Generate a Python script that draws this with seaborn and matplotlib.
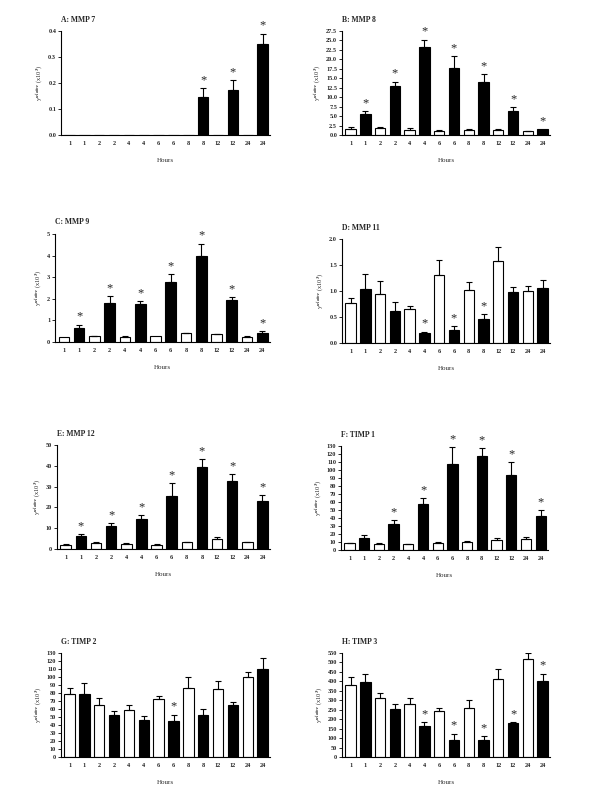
import matplotlib
matplotlib.use("Agg")
import numpy as np
import pandas as pd
import matplotlib.pyplot as plt
import seaborn as sns

# -----------------------------
# Data
# -----------------------------
hours = ["1", "1", "2", "2", "4", "4", "6", "6", "8", "8", "12", "12", "24", "24"]
groups = ["control", "treated"] * 7

mmp7_mean = [0, 0, 0, 0, 0, 0, 0, 0, 0, 0.145, 0, 0.174, 0, 0.35]
mmp7_err = [0, 0, 0, 0, 0, 0, 0, 0, 0, 0.035, 0, 0.037, 0, 0.04]
mmp7_sig = [9, 11, 13]

mmp8_mean = [1.5, 5.5, 1.85, 12.9, 1.3, 23.3, 1.15, 17.75, 1.3, 14.05, 1.3, 6.4, 0.97, 1.5]
mmp8_err = [0.5, 0.8, 0.15, 1.2, 0.45, 1.9, 0.15, 3.1, 0.2, 2.0, 0.2, 1.0, 0.08, 0.0]
mmp8_sig = [1, 3, 5, 7, 9, 11, 13]

mmp9_mean = [0.23, 0.67, 0.26, 1.82, 0.22, 1.74, 0.3, 2.8, 0.4, 3.96, 0.36, 1.93, 0.25, 0.43]
mmp9_err = [0.0, 0.14, 0.02, 0.31, 0.04, 0.15, 0.0, 0.34, 0.02, 0.59, 0.03, 0.15, 0.02, 0.07]
mmp9_sig = [1, 3, 5, 7, 9, 11, 13]

mmp11_mean = [0.76, 1.03, 0.95, 0.62, 0.645, 0.19, 1.31, 0.245, 1.01, 0.47, 1.58, 0.99, 1.0, 1.06]
mmp11_err = [0.1, 0.29, 0.25, 0.17, 0.075, 0.03, 0.28, 0.075, 0.17, 0.08, 0.26, 0.09, 0.1, 0.15]
mmp11_sig = [5, 7, 9]

mmp12_mean = [2.1, 6.1, 2.9, 11.2, 2.4, 14.4, 2.1, 25.7, 3.2, 39.3, 4.8, 32.9, 3.2, 23.2]
mmp12_err = [0.3, 1.1, 0.3, 1.3, 0.3, 1.9, 0.3, 5.9, 0.3, 3.8, 1.1, 3.0, 0.3, 2.7]
mmp12_sig = [1, 3, 5, 7, 9, 11, 13]

timp1_mean = [8.3, 14.6, 7.9, 32.0, 7.1, 57.0, 8.3, 108.0, 10.4, 117.5, 12.5, 93.75, 13.3, 42.5]
timp1_err = [0.9, 3.7, 0.85, 5.0, 0.8, 7.6, 1.7, 20.8, 0.85, 9.5, 2.5, 15.8, 3.4, 7.5]
timp1_sig = [3, 5, 7, 9, 11, 13]

timp2_mean = [79.0, 79.0, 64.6, 53.0, 59.0, 46.0, 72.0, 45.0, 86.7, 53.0, 85.4, 64.6, 99.6, 110.0]
timp2_err = [7.0, 14.0, 9.1, 4.0, 6.0, 5.0, 4.0, 8.0, 13.3, 7.0, 9.6, 4.1, 6.4, 14.0]
timp2_sig = [7]

timp3_mean = [379, 398, 312, 252, 282, 162, 241, 92, 259, 92, 414, 180, 520, 402]
timp3_err = [44, 43, 28, 30, 30, 21, 20, 31, 41, 17, 53, 5, 32, 39]
timp3_sig = [5, 7, 9, 11, 13]

# panel title, values, errors, significant bars, y ticks, tick format, axes rect
panels = [
    ("A: MMP 7", mmp7_mean, mmp7_err, mmp7_sig, np.arange(0, 0.41, 0.1), "{:.1f}",
     [61 / 600, 1 - 135 / 800, 209 / 600, 104 / 800]),
    ("B: MMP 8", mmp8_mean, mmp8_err, mmp8_sig, np.arange(0, 27.6, 2.5), "{:.1f}",
     [342 / 600, 1 - 135 / 800, 208 / 600, 104 / 800]),
    ("C: MMP 9", mmp9_mean, mmp9_err, mmp9_sig, np.arange(0, 6, 1), "{:.0f}",
     [55 / 600, 1 - 342 / 800, 215 / 600, 108 / 800]),
    ("D: MMP 11", mmp11_mean, mmp11_err, mmp11_sig, np.arange(0, 2.01, 0.5), "{:.1f}",
     [342 / 600, 1 - 343 / 800, 208 / 600, 104 / 800]),
    ("E: MMP 12", mmp12_mean, mmp12_err, mmp12_sig, np.arange(0, 51, 10), "{:.0f}",
     [57 / 600, 1 - 549 / 800, 213 / 600, 104 / 800]),
    ("F: TIMP 1", timp1_mean, timp1_err, timp1_sig, np.arange(0, 131, 10), "{:.0f}",
     [341 / 600, 1 - 550 / 800, 207 / 600, 104 / 800]),
    ("G: TIMP 2", timp2_mean, timp2_err, timp2_sig, np.arange(0, 131, 10), "{:.0f}",
     [61 / 600, 1 - 757 / 800, 209 / 600, 104 / 800]),
    ("H: TIMP 3", timp3_mean, timp3_err, timp3_sig, np.arange(0, 551, 50), "{:.0f}",
     [342 / 600, 1 - 757 / 800, 208 / 600, 104 / 800]),
]

# -----------------------------
# Style
# -----------------------------
sns.set_theme(style="ticks")
plt.rcParams["font.family"] = ["Liberation Serif", "DejaVu Serif"]
plt.rcParams["font.weight"] = "bold"
plt.rcParams["mathtext.fontset"] = "stix"

fig = plt.figure(figsize=(6, 8), dpi=100)

for title, mean, err, sig, yticks, fmt, rect in panels:
    ax = fig.add_axes(rect)

    df = pd.DataFrame({
        "pos": list(range(len(hours))),
        "value": mean,
        "group": groups,
    })

    sns.barplot(
        data=df,
        x="pos",
        y="value",
        hue="group",
        palette={"control": "white", "treated": "black"},
        dodge=False,
        width=0.7,
        edgecolor="black",
        linewidth=0.8,
        legend=False,
        ax=ax,
    )

    # upper error bars only
    pos = np.arange(len(hours))
    m = np.array(mean, dtype=float)
    e = np.array(err, dtype=float)
    show = (m > 0) & (e > 0)
    ax.errorbar(
        pos[show], m[show],
        yerr=[np.zeros(show.sum()), e[show]],
        fmt="none", ecolor="black", elinewidth=0.8,
        capsize=2.5, capthick=0.8,
    )

    ymax = yticks[-1]
    for i in sig:
        ax.text(i, m[i] + e[i] + ymax * 0.02, "*", ha="center", va="bottom",
                fontsize=9, fontweight="normal")

    ax.set_ylim(0, ymax)
    ax.set_xlim(-0.58, 13.5)
    ax.set_yticks(yticks)
    ax.set_yticklabels([fmt.format(t) for t in yticks])
    ax.set_xticks(pos)
    ax.set_xticklabels(hours)
    ax.tick_params(axis="y", labelsize=4.5, length=2, width=0.7, pad=1.5)
    ax.tick_params(axis="x", labelsize=4.5, length=0, pad=4)
    for s in ["top", "right"]:
        ax.spines[s].set_visible(False)
    for s in ["left", "bottom"]:
        ax.spines[s].set_linewidth(0.8)
        ax.spines[s].set_color("black")

    ax.set_xlabel("Hours", fontsize=5, labelpad=9)
    ax.set_ylabel(r"y$^{relative}$ (x10$^{3}$)", fontsize=4.5, labelpad=2)
    ax.text(0.0, 1.07, title, transform=ax.transAxes, fontsize=5.5,
            ha="left", va="bottom")

fig.savefig("out.png", dpi=100, facecolor="white")
plt.close(fig)
